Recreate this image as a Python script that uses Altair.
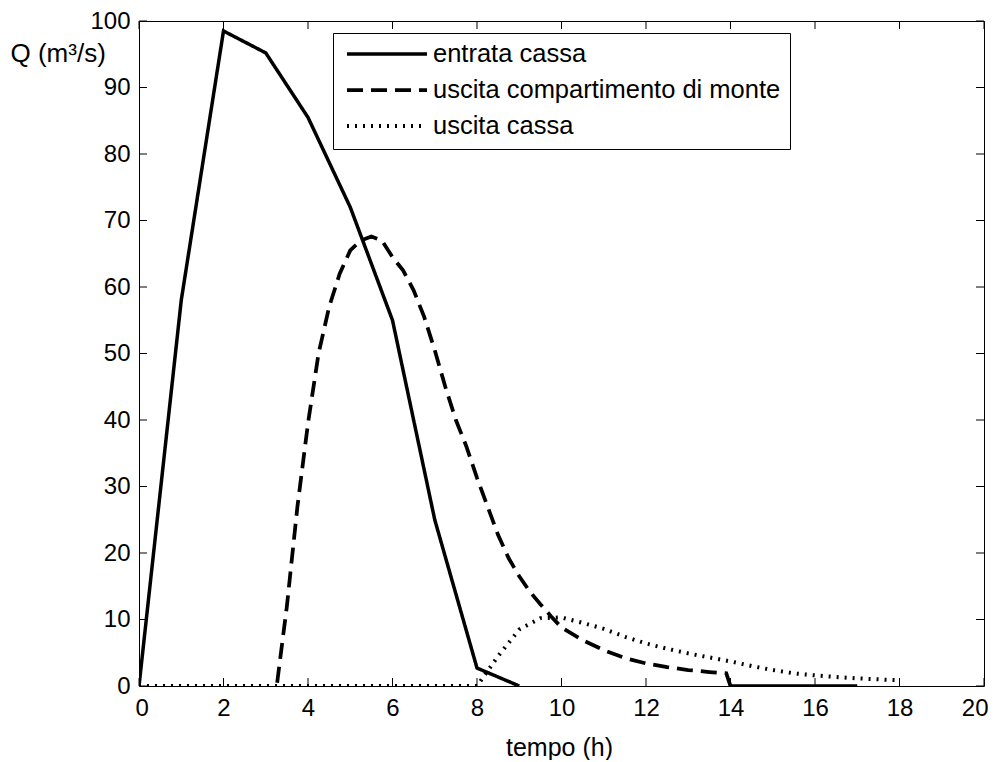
import altair as alt
import pandas as pd

FONT = "Liberation Sans"
W, H = 845, 665

series_names = ["entrata cassa", "uscita compartimento di monte", "uscita cassa"]

# entrata cassa (solid)
t_in = [0, 1, 2, 3, 4, 5, 6, 7, 8, 9]
q_in = [0, 58, 98.5, 95.2, 85.5, 72, 55, 25, 2.7, 0]
t_in_tail = [14, 15, 16, 17]
q_in_tail = [0, 0, 0, 0]

# uscita compartimento di monte (dashed)
t_monte = [3.27, 3.5, 3.75, 4.0, 4.25, 4.5, 4.75, 5.0, 5.25, 5.5, 5.75, 6.0, 6.25,
           6.5, 6.75, 7.0, 7.25, 7.5, 7.75, 8.0, 8.25, 8.5, 8.75, 9.0, 9.25, 9.5,
           9.75, 10.0, 10.5, 11.0, 11.5, 12.0, 12.5, 13.0, 13.5, 13.9, 14.0]
q_monte = [0.5, 12, 27, 39.5, 50, 57, 62, 65.5, 67, 67.6, 67, 64.5, 62.5,
           59.5, 55.5, 50.5, 45, 40, 36, 31.3, 27, 22.7, 19.2, 16.5, 14.2, 12.3,
           10.5, 8.8, 6.9, 5.4, 4.2, 3.4, 2.85, 2.4, 2.1, 1.9, 0]

# uscita cassa (dotted)
t_out = [0, 8.0, 8.5, 9.0, 9.5, 10.0, 10.5, 11.0, 11.5, 12.0, 12.5, 13.0, 13.5,
         14.0, 14.5, 15.0, 15.5, 16.0, 16.5, 17.0, 17.5, 18.0]
q_out = [0, 0, 4.5, 8.5, 10.2, 10.3, 9.5, 8.6, 7.4, 6.4, 5.6, 4.9, 4.3,
         3.7, 3.0, 2.4, 1.9, 1.6, 1.35, 1.15, 1.0, 0.85]

x_ticks = list(range(0, 21, 2))
y_ticks = list(range(0, 101, 10))

rows = []
for t, q in zip(t_in, q_in):
    rows.append({"serie": series_names[0], "seg": "a", "t": t, "q": q})
for t, q in zip(t_in_tail, q_in_tail):
    rows.append({"serie": series_names[0], "seg": "b", "t": t, "q": q})
for t, q in zip(t_monte, q_monte):
    rows.append({"serie": series_names[1], "seg": "a", "t": t, "q": q})
for t, q in zip(t_out, q_out):
    rows.append({"serie": series_names[2], "seg": "a", "t": t, "q": q})
df = pd.DataFrame(rows)

xs = alt.Scale(domain=[0, 20], nice=False, zero=False)
ys = alt.Scale(domain=[0, 100], nice=False, zero=False)

x_axis = alt.Axis(
    values=x_ticks, title="tempo (h)", ticks=False, domain=False, grid=False,
    labelFlush=True, labelFlushOffset=4, labelFont=FONT, labelFontSize=24,
    labelColor="black", labelPadding=29, labelBaseline="alphabetic",
    titleFont=FONT, titleFontSize=25, titleFontWeight="normal",
    titleColor="black", titleX=420, titleY=69, titleBaseline="alphabetic")
y_axis = alt.Axis(
    values=y_ticks, title="Q (m³/s)", ticks=False, domain=False, grid=False,
    labelFlush=False, labelFont=FONT, labelFontSize=24, labelColor="black",
    labelPadding=9, titleFont=FONT, titleFontSize=26, titleFontWeight="normal",
    titleColor="black", titleAngle=0, titleAlign="left", titleX=-129,
    titleY=40, titleBaseline="alphabetic")

lines = alt.Chart(df).mark_line(color="black", clip=True, strokeCap="butt").encode(
    x=alt.X("t:Q", scale=xs, axis=x_axis),
    y=alt.Y("q:Q", scale=ys, axis=y_axis),
    strokeDash=alt.StrokeDash("serie:N", scale=alt.Scale(
        domain=series_names, range=[[1, 0], [16, 8], [2, 6]]),
        legend=alt.Legend(title=None, orient="none", legendX=194, legendY=12,
                          direction="vertical", strokeColor="black",
                          fillColor="white", padding=9, symbolType="stroke",
                          symbolSize=6400, clipHeight=24, symbolOffset=3,
                          symbolStrokeColor="black",
                          labelFont=FONT, labelFontSize=25.5, labelColor="black",
                          labelOffset=4, rowPadding=10, labelLimit=600)),
    strokeWidth=alt.StrokeWidth("serie:N", scale=alt.Scale(
        domain=series_names, range=[3.5, 4, 2.5])),
    detail="seg:N",
)

xt = pd.DataFrame({"t": x_ticks})
yt = pd.DataFrame({"q": y_ticks})

bottom_ticks = alt.Chart(xt).mark_rule(color="black", strokeWidth=1).encode(
    x=alt.X("t:Q", scale=xs, axis=x_axis), y=alt.value(H), y2=alt.value(H - 8))
top_ticks = alt.Chart(xt).mark_rule(color="black", strokeWidth=1).encode(
    x=alt.X("t:Q", scale=xs, axis=x_axis), y=alt.value(0), y2=alt.value(8))
left_ticks = alt.Chart(yt).mark_rule(color="black", strokeWidth=1).encode(
    y=alt.Y("q:Q", scale=ys, axis=y_axis), x=alt.value(0), x2=alt.value(8))
right_ticks = alt.Chart(yt).mark_rule(color="black", strokeWidth=1).encode(
    y=alt.Y("q:Q", scale=ys, axis=y_axis), x=alt.value(W), x2=alt.value(W - 8))

chart = alt.layer(lines, bottom_ticks, top_ticks, left_ticks, right_ticks).properties(
    width=W, height=H,
    autosize=alt.AutoSizeParams(type="none"),
    padding={"left": 131, "top": 13, "right": 5, "bottom": 74},
    background="white",
).configure_view(stroke="black", strokeWidth=1)

chart.save("out.html", embed_options={"renderer": "svg", "actions": False})
